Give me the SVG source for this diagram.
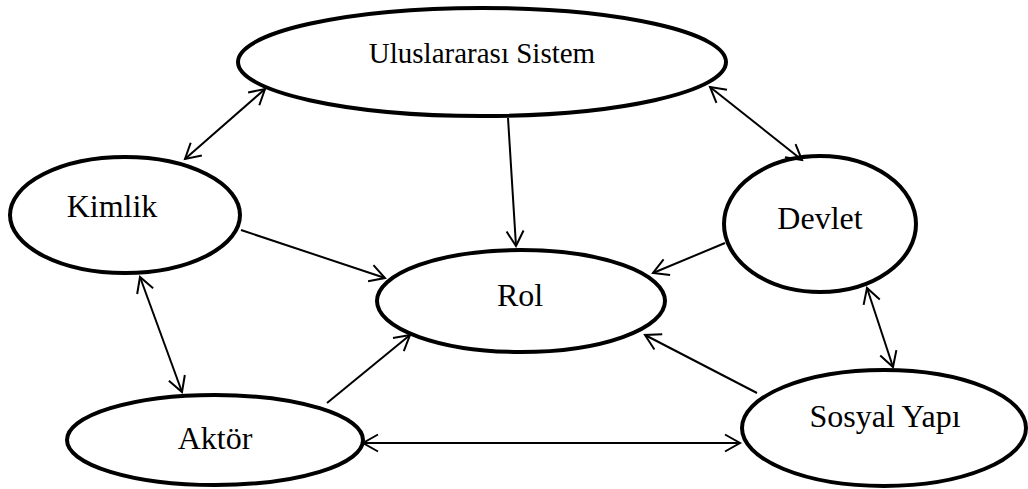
<svg xmlns="http://www.w3.org/2000/svg" width="1028" height="489" viewBox="0 0 1028 489">
<style>
.node{fill:#fff;stroke:#000;stroke-width:4}
.lbl{font-family:"Liberation Serif","Times New Roman",serif;font-size:32px;fill:#000;text-anchor:middle}
.edge{stroke:#000;stroke-width:2;fill:none}
.uni{marker-end:url(#arr)}
.bi{marker-start:url(#arr);marker-end:url(#arr)}
</style>
<defs>
<marker id="arr" markerUnits="userSpaceOnUse" markerWidth="20" markerHeight="20" refX="16" refY="9.5" orient="auto-start-reverse" overflow="visible">
<path d="M1,1 L16,9.5 L1,18" fill="none" stroke="#000" stroke-width="2"/>
</marker>
</defs>
<rect width="1028" height="489" fill="#fff"/>
<g id="n-uluslararasi"><ellipse class="node" cx="482" cy="62" rx="244" ry="54"/><text class="lbl" x="482" y="63" style="font-size:29px">Uluslararası Sistem</text></g>
<g id="n-kimlik"><ellipse class="node" cx="125" cy="215" rx="115" ry="58"/><text class="lbl" x="112" y="217">Kimlik</text></g>
<g id="n-devlet"><ellipse class="node" cx="820" cy="224" rx="96" ry="68"/><text class="lbl" x="820" y="229">Devlet</text></g>
<g id="n-rol"><ellipse class="node" cx="521" cy="301" rx="144" ry="51"/><text class="lbl" x="520" y="306">Rol</text></g>
<g id="n-aktor"><ellipse class="node" cx="215" cy="440" rx="148" ry="45"/><text class="lbl" x="215" y="449">Aktör</text></g>
<g id="n-sosyal"><ellipse class="node" cx="884" cy="428" rx="142" ry="58"/><text class="lbl" x="885" y="427">Sosyal Yapı</text></g>
<g id="connectors">
<line class="edge bi" x1="265" y1="89" x2="185" y2="159"/>
<line class="edge bi" x1="710" y1="87" x2="802" y2="160"/>
<line class="edge uni" x1="508" y1="118" x2="516" y2="246"/>
<line class="edge uni" x1="241" y1="230" x2="385" y2="278"/>
<line class="edge uni" x1="725" y1="243" x2="653" y2="273"/>
<line class="edge bi" x1="140" y1="277" x2="182" y2="392"/>
<line class="edge uni" x1="327" y1="403" x2="410" y2="335"/>
<line class="edge uni" x1="757" y1="393" x2="645" y2="335"/>
<line class="edge bi" x1="867" y1="288" x2="893" y2="367"/>
<line class="edge bi" x1="363" y1="443" x2="740" y2="443"/>
</g>
</svg>
